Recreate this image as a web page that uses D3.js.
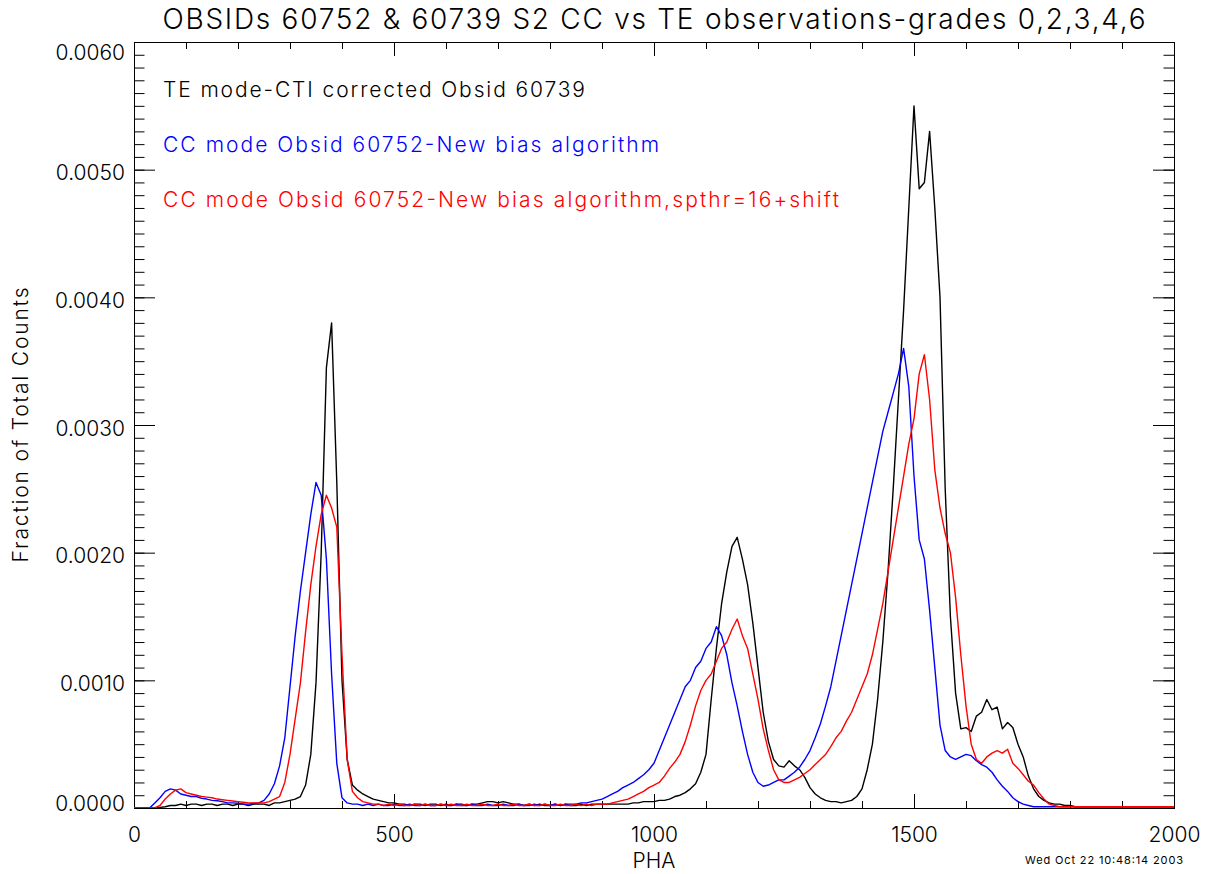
<!DOCTYPE html>
<html>
<head>
<meta charset="utf-8">
<script src="https://cdn.jsdelivr.net/npm/d3@7.9.0/dist/d3.min.js"></script>
<style>
  body { margin: 0; background: #fff; }
  svg text { font-family: Inter, "DejaVu Sans", sans-serif; font-weight: 300; fill: #000; }
</style>
</head>
<body>
<svg id="chart" width="1218" height="874"></svg>
<script>
// PHA histograms, one value every 10 PHA channels (0..2000), fraction of total counts x 1e-3
const binStep = 10;
const UNIT = 1e-3;

const teCounts = [
  0, 0, 0, 0, 0, 0.005, 0.01, 0.02, 0.02, 0.03,            // 0
  0.02, 0.03, 0.03, 0.02, 0.03, 0.03, 0.02, 0.03, 0.03, 0.02, // 100
  0.03, 0.03, 0.02, 0.03, 0.03, 0.03, 0.02, 0.04, 0.04, 0.05, // 200
  0.06, 0.07, 0.09, 0.18, 0.42, 0.98, 2.0, 3.45, 3.8, 2.55,   // 300
  1.0, 0.38, 0.18, 0.14, 0.11, 0.09, 0.07, 0.06, 0.05, 0.04,  // 400
  0.04, 0.03, 0.03, 0.02, 0.03, 0.03, 0.02, 0.03, 0.03, 0.02, // 500
  0.03, 0.02, 0.03, 0.03, 0.02, 0.03, 0.03, 0.04, 0.05, 0.05, // 600
  0.04, 0.05, 0.04, 0.03, 0.03, 0.02, 0.03, 0.02, 0.03, 0.02, // 700
  0.02, 0.03, 0.02, 0.03, 0.02, 0.02, 0.03, 0.02, 0.03, 0.03, // 800
  0.03, 0.03, 0.03, 0.03, 0.03, 0.03, 0.04, 0.04, 0.05, 0.05, // 900
  0.05, 0.06, 0.06, 0.07, 0.09, 0.1, 0.12, 0.15, 0.19, 0.28,  // 1000
  0.42, 0.85, 1.25, 1.6, 1.85, 2.05, 2.12, 1.95, 1.75, 1.45,  // 1100
  1.1, 0.75, 0.52, 0.38, 0.33, 0.32, 0.37, 0.33, 0.3, 0.24,   // 1200
  0.16, 0.11, 0.08, 0.06, 0.05, 0.05, 0.04, 0.05, 0.06, 0.09, // 1300
  0.15, 0.3, 0.5, 0.85, 1.3, 1.85, 2.5, 3.2, 3.9, 4.7,        // 1400
  5.5, 4.85, 4.9, 5.3, 4.7, 4.0, 2.5, 1.5, 0.9, 0.62,         // 1500
  0.63, 0.6, 0.72, 0.75, 0.85, 0.77, 0.79, 0.62, 0.67, 0.63,  // 1600
  0.5, 0.4, 0.25, 0.15, 0.09, 0.06, 0.04, 0.03, 0.03, 0.02,   // 1700
  0.02, 0.01, 0.01, 0.01, 0.01, 0.01, 0.01, 0.01, 0.01, 0.01, // 1800
  0.01, 0.01, 0.01, 0.01, 0.01, 0.01, 0.01, 0.01, 0.01, 0.01, // 1900
  0.01
];

const ccCounts = [
  0, 0, 0, 0, 0.04, 0.08, 0.13, 0.15, 0.14, 0.11,
  0.1, 0.09, 0.09, 0.075, 0.07, 0.06, 0.057, 0.05, 0.04, 0.04,
  0.037, 0.03, 0.03, 0.035, 0.04, 0.06, 0.11, 0.19, 0.33, 0.55,
  0.95, 1.35, 1.7, 2.0, 2.3, 2.55, 2.45, 1.95, 1.05, 0.35,
  0.08, 0.04, 0.03, 0.03, 0.02, 0.03, 0.02, 0.03, 0.02, 0.02,
  0.03, 0.02, 0.02, 0.03, 0.02, 0.02, 0.03, 0.02, 0.02, 0.03,
  0.02, 0.02, 0.03, 0.02, 0.02, 0.03, 0.02, 0.02, 0.03, 0.02,
  0.02, 0.03, 0.02, 0.02, 0.03, 0.02, 0.02, 0.03, 0.02, 0.03,
  0.02, 0.03, 0.02, 0.03, 0.03, 0.03, 0.04, 0.04, 0.05, 0.06,
  0.07, 0.09, 0.11, 0.13, 0.16, 0.18, 0.2, 0.23, 0.26, 0.3,
  0.35, 0.45, 0.55, 0.65, 0.75, 0.85, 0.95, 1.0, 1.1, 1.15,
  1.25, 1.3, 1.42, 1.35, 1.2, 0.98, 0.8, 0.6, 0.42, 0.28,
  0.2, 0.17, 0.18, 0.2, 0.22, 0.22, 0.25, 0.28, 0.32, 0.38,
  0.45, 0.55, 0.66, 0.8, 0.95, 1.15, 1.35, 1.55, 1.75, 1.95,
  2.15, 2.35, 2.55, 2.75, 2.95, 3.1, 3.25, 3.4, 3.6, 3.3,
  2.6, 2.1, 1.95, 1.55, 1.1, 0.65, 0.45, 0.4, 0.38, 0.4,
  0.42, 0.41, 0.37, 0.34, 0.32, 0.28, 0.22, 0.17, 0.13, 0.08,
  0.05, 0.03, 0.02, 0.01, 0.01, 0.01, 0.01, 0.01, 0.01, 0.01,
  0.01, 0.01, 0.01, 0.01, 0.01, 0.01, 0.01, 0.01, 0.01, 0.01,
  0.01, 0.01, 0.01, 0.01, 0.01, 0.01, 0.01, 0.01, 0.01, 0.01,
  0.01
];

const ccShiftCounts = [
  0, 0, 0, 0, 0, 0.02, 0.07, 0.11, 0.14, 0.15,
  0.12, 0.11, 0.1, 0.09, 0.085, 0.08, 0.07, 0.065, 0.06, 0.055,
  0.05, 0.045, 0.04, 0.04, 0.04, 0.04, 0.05, 0.07, 0.09, 0.2,
  0.42, 0.7, 0.98, 1.38, 1.75, 2.05, 2.3, 2.45, 2.35, 2.2,
  1.2, 0.38, 0.13, 0.08, 0.05, 0.04, 0.03, 0.03, 0.02, 0.03,
  0.02, 0.03, 0.02, 0.02, 0.03, 0.02, 0.03, 0.02, 0.02, 0.03,
  0.02, 0.03, 0.02, 0.02, 0.03, 0.02, 0.02, 0.03, 0.02, 0.02,
  0.03, 0.02, 0.02, 0.03, 0.02, 0.02, 0.03, 0.02, 0.02, 0.03,
  0.02, 0.02, 0.03, 0.02, 0.02, 0.03, 0.02, 0.03, 0.02, 0.03,
  0.03, 0.03, 0.04, 0.05, 0.06, 0.07, 0.09, 0.11, 0.13, 0.16,
  0.18, 0.2, 0.25, 0.31, 0.36, 0.42, 0.52, 0.65, 0.8, 0.92,
  1.0, 1.05, 1.15, 1.25, 1.3, 1.4, 1.48, 1.35, 1.25, 1.05,
  0.85, 0.62, 0.45, 0.3, 0.22, 0.2, 0.2, 0.22, 0.24, 0.27,
  0.3, 0.34, 0.38, 0.42, 0.48, 0.55, 0.6, 0.68, 0.75, 0.85,
  0.95, 1.05, 1.2, 1.4, 1.6, 1.85, 2.1, 2.35, 2.6, 2.85,
  3.05, 3.4, 3.55, 3.2, 2.65, 2.35, 2.15, 2.0, 1.65, 1.2,
  0.8, 0.5, 0.38, 0.35, 0.4, 0.43, 0.45, 0.43, 0.46, 0.35,
  0.31, 0.26, 0.21, 0.18, 0.12, 0.07, 0.03, 0.02, 0.01, 0.01,
  0.01, 0.01, 0.01, 0.01, 0.01, 0.01, 0.01, 0.01, 0.01, 0.01,
  0.01, 0.01, 0.01, 0.01, 0.01, 0.01, 0.01, 0.01, 0.01, 0.01,
  0.01
];

const seriesLabels = [
  "TE mode-CTI corrected Obsid 60739",
  "CC mode Obsid 60752-New bias algorithm",
  "CC mode Obsid 60752-New bias algorithm,spthr=16+shift"
];
const seriesColors = ["#000000", "#0000ff", "#ff0000"];
const xMajorTicks = [0, 500, 1000, 1500, 2000];
const yMajorTicks = [0, 0.001, 0.002, 0.003, 0.004, 0.005, 0.006];

const svg = d3.select("#chart");

const x = d3.scaleLinear().domain([0, 2000]).range([134, 1174]);
const y = d3.scaleLinear().domain([0, 0.006]).range([808, 42]);

const xMinor = d3.range(0, 2001, 100);
const yMinor = d3.range(0, 61).map(i => i * 1e-4);

// frame
svg.append("rect")
  .attr("x", 134.5).attr("y", 42.5)
  .attr("width", 1040).attr("height", 766)
  .attr("fill", "none").attr("stroke", "#000");

function addAxis(axis, tx, ty) {
  const g = svg.append("g").attr("transform", `translate(${tx},${ty})`).call(axis);
  g.select(".domain").remove();
  g.selectAll(".tick line").attr("stroke", "#000");
  return g;
}

// x axes (bottom with labels, top without)
addAxis(d3.axisBottom(x).tickValues(xMinor).tickSize(-7).tickFormat(""), 0, 808);
const xAxisG = addAxis(d3.axisBottom(x).tickValues(xMajorTicks).tickSize(-14).tickPadding(19)
  .tickFormat(d3.format("d")), 0, 808);
addAxis(d3.axisTop(x).tickValues(xMinor).tickSize(-7).tickFormat(""), 0, 42);
addAxis(d3.axisTop(x).tickValues(xMajorTicks).tickSize(-14).tickFormat(""), 0, 42);

// y axes (left with labels, right without)
addAxis(d3.axisLeft(y).tickValues(yMinor).tickSize(-10.5).tickFormat(""), 134, 0);
const yAxisG = addAxis(d3.axisLeft(y).tickValues(yMajorTicks).tickSize(-21).tickPadding(9)
  .tickFormat(d3.format(".4f")), 134, 0);
addAxis(d3.axisRight(y).tickValues(yMinor).tickSize(-10.5).tickFormat(""), 1174, 0);
addAxis(d3.axisRight(y).tickValues(yMajorTicks).tickSize(-21).tickFormat(""), 1174, 0);

xAxisG.selectAll("text").attr("font-size", 21).attr("font-family", null);
yAxisG.selectAll("text").attr("font-size", 21).attr("font-family", null)
  .attr("dy", d => d === 0.006 ? "17px" : d === 0 ? "2px" : "10px");

// data lines
const series = [teCounts, ccCounts, ccShiftCounts];
const line = d3.line()
  .x((d, i) => x(i * binStep))
  .y(d => y(d * UNIT));

svg.append("defs").append("clipPath").attr("id", "plotClip")
  .append("rect").attr("x", 134).attr("y", 42).attr("width", 1040).attr("height", 766);

svg.append("g").attr("clip-path", "url(#plotClip)")
  .selectAll("path")
  .data(series)
  .join("path")
  .attr("d", line)
  .attr("fill", "none")
  .attr("stroke", (d, i) => seriesColors[i])
  .attr("stroke-width", 1.4)
  .attr("stroke-linejoin", "round");

// legend text inside the plot
const legendWidths = [422, 496, 676];
svg.selectAll(".legend")
  .data(seriesLabels)
  .join("text")
  .attr("class", "legend")
  .attr("x", 163)
  .attr("y", (d, i) => 97 + i * 55)
  .attr("font-size", 21)
  .attr("textLength", (d, i) => legendWidths[i])
  .attr("lengthAdjust", "spacing")
  .style("fill", (d, i) => seriesColors[i])
  .text(d => d);

// title and axis titles
svg.append("text")
  .attr("x", 654).attr("y", 29)
  .attr("text-anchor", "middle")
  .attr("font-size", 28)
  .attr("textLength", 983).attr("lengthAdjust", "spacing")
  .text("OBSIDs 60752 & 60739 S2 CC vs TE observations-grades 0,2,3,4,6");

svg.append("text")
  .attr("transform", "translate(28,425) rotate(-90)")
  .attr("text-anchor", "middle")
  .attr("font-size", 21)
  .attr("textLength", 275).attr("lengthAdjust", "spacing")
  .text("Fraction of Total Counts");

svg.append("text")
  .attr("x", 654).attr("y", 868)
  .attr("text-anchor", "middle")
  .attr("font-size", 21)
  .text("PHA");

svg.append("text")
  .attr("x", 1183).attr("y", 864)
  .attr("text-anchor", "end")
  .attr("font-size", 11)
  .style("font-weight", 400)
  .attr("textLength", 158).attr("lengthAdjust", "spacing")
  .text("Wed Oct 22 10:48:14 2003");
</script>
</body>
</html>
